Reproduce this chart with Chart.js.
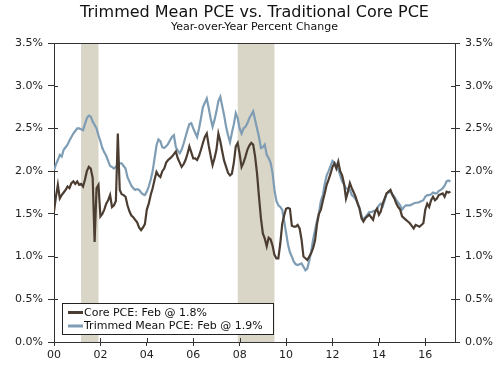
<!DOCTYPE html>
<html><head><meta charset="utf-8">
<script src="https://cdn.jsdelivr.net/npm/chart.js@4.4.1/dist/chart.umd.min.js"></script>
<style>html,body{margin:0;padding:0;background:#fff;}#wrap{width:500px;height:366px;}</style>
</head><body><div id="wrap"><canvas id="c" width="500" height="366"></canvas></div>
<script>
const startYear = 2000;
const titleText = 'Trimmed Mean PCE vs. Traditional Core PCE';
const subtitleText = 'Year-over-Year Percent Change';
const coreLabel = 'Core PCE: Feb @ 1.8%';
const trimLabel = 'Trimmed Mean PCE: Feb @ 1.9%';

// Monthly YoY % change, Jan 2000 - Feb 2017
const corePCE = [
1.53,1.70,1.84,1.68,1.72,1.75,1.78,1.82,1.80,1.86,1.88,1.85,
1.88,1.84,1.85,1.82,1.90,2.00,2.05,2.03,1.92,1.17,1.80,1.84,
1.47,1.50,1.55,1.62,1.66,1.72,1.58,1.60,1.65,2.44,1.78,1.73,
1.72,1.70,1.60,1.53,1.48,1.46,1.43,1.40,1.34,1.31,1.34,1.38,
1.55,1.62,1.72,1.80,1.90,1.99,1.95,1.93,2.00,2.03,2.10,2.13,
2.15,2.17,2.20,2.23,2.15,2.10,2.05,2.08,2.13,2.20,2.29,2.22,
2.15,2.15,2.13,2.18,2.25,2.33,2.40,2.44,2.30,2.18,2.07,2.15,
2.25,2.44,2.35,2.23,2.12,2.05,1.98,1.95,1.97,2.10,2.29,2.33,
2.20,2.05,2.10,2.17,2.25,2.30,2.33,2.31,2.17,1.97,1.70,1.45,
1.27,1.21,1.12,1.22,1.20,1.13,1.02,0.98,0.98,1.15,1.38,1.48,
1.56,1.57,1.56,1.36,1.35,1.35,1.37,1.33,1.20,1.00,0.98,0.96,
1.00,1.04,1.10,1.19,1.38,1.50,1.55,1.65,1.74,1.84,1.90,1.97,
2.05,2.09,2.03,2.11,2.00,1.95,1.85,1.68,1.76,1.86,1.80,1.75,
1.70,1.62,1.56,1.45,1.41,1.45,1.47,1.49,1.46,1.43,1.52,1.56,
1.49,1.53,1.62,1.68,1.74,1.76,1.78,1.72,1.68,1.62,1.58,1.55,
1.47,1.45,1.43,1.41,1.39,1.36,1.33,1.37,1.36,1.35,1.37,1.39,
1.55,1.62,1.58,1.66,1.70,1.66,1.68,1.72,1.73,1.74,1.70,1.76,
1.75,1.76
];
const trimmedPCE = [
2.01,2.08,2.13,2.19,2.17,2.25,2.28,2.31,2.36,2.40,2.44,2.47,
2.50,2.50,2.49,2.48,2.55,2.62,2.65,2.64,2.58,2.54,2.50,2.42,
2.35,2.27,2.22,2.18,2.12,2.06,2.05,2.03,2.05,2.08,2.09,2.09,
2.06,2.03,1.93,1.88,1.83,1.80,1.78,1.79,1.78,1.75,1.73,1.72,
1.76,1.82,1.90,2.00,2.15,2.30,2.37,2.35,2.28,2.27,2.29,2.32,
2.36,2.40,2.42,2.28,2.24,2.21,2.25,2.32,2.40,2.48,2.55,2.56,
2.50,2.45,2.40,2.50,2.62,2.75,2.80,2.85,2.74,2.62,2.52,2.60,
2.70,2.82,2.87,2.76,2.65,2.52,2.42,2.34,2.45,2.55,2.68,2.62,
2.50,2.44,2.50,2.52,2.56,2.62,2.66,2.70,2.60,2.50,2.40,2.27,
2.28,2.31,2.19,2.15,2.10,1.98,1.78,1.65,1.60,1.58,1.55,1.42,
1.28,1.14,1.05,1.00,0.94,0.91,0.90,0.91,0.92,0.88,0.84,0.86,
0.95,1.06,1.20,1.31,1.42,1.51,1.65,1.72,1.85,1.95,2.00,2.06,
2.12,2.10,2.07,2.02,1.95,1.88,1.84,1.80,1.79,1.78,1.72,1.70,
1.67,1.63,1.57,1.48,1.43,1.46,1.49,1.52,1.52,1.53,1.54,1.55,
1.60,1.62,1.59,1.66,1.74,1.75,1.76,1.73,1.70,1.66,1.63,1.60,
1.55,1.58,1.60,1.60,1.60,1.61,1.62,1.63,1.63,1.64,1.65,1.66,
1.70,1.72,1.72,1.73,1.75,1.74,1.74,1.77,1.78,1.80,1.83,1.88,
1.89,1.88
];
const xTickYears = [2000,2002,2004,2006,2008,2010,2012,2014,2016];
const xTickLabels = ['00','02','04','06','08','10','12','14','16'];
const yTicks = [0,0.5,1,1.5,2,2.5,3,3.5];
const recessions = [[2001 + 2/12, 2001 + 11/12], [2007 + 11/12, 2009 + 6/12]];

const coreColor = '#4b3d31';
const trimColor = '#7e9db4';
const bandColor = '#d9d5c7';
const axisColor = '#333';
const FONT = "'DejaVu Sans', Verdana, sans-serif";

const toPts = arr => arr.map((v, i) => ({x: startYear + i / 12, y: v}));

const bandsPlugin = {
  id: 'bands',
  beforeDatasetsDraw(chart) {
    const {ctx, chartArea, scales} = chart;
    ctx.save();
    ctx.fillStyle = bandColor;
    recessions.forEach(([a, b]) => {
      const x1 = scales.x.getPixelForValue(a), x2 = scales.x.getPixelForValue(b);
      ctx.fillRect(x1, chartArea.top, x2 - x1, chartArea.bottom - chartArea.top);
    });
    ctx.restore();
  }
};

const framePlugin = {
  id: 'frame',
  afterDatasetsDraw(chart) {
    const {ctx, chartArea, scales} = chart;
    ctx.save();
    ctx.strokeStyle = axisColor;
    ctx.lineWidth = 1;
    ctx.beginPath();
    ctx.moveTo(chartArea.left, chartArea.top + 0.5);
    ctx.lineTo(chartArea.right, chartArea.top + 0.5);
    // inner tick parts
    yTicks.forEach(v => {
      const y = Math.round(scales.y.getPixelForValue(v)) + 0.5;
      ctx.moveTo(chartArea.left, y); ctx.lineTo(chartArea.left + 4, y);
      ctx.moveTo(chartArea.right, y); ctx.lineTo(chartArea.right - 4, y);
    });
    xTickYears.forEach(v => {
      const x = Math.round(scales.x.getPixelForValue(v)) + 0.5;
      ctx.moveTo(x, chartArea.bottom); ctx.lineTo(x, chartArea.bottom - 4);
    });
    ctx.stroke();
    ctx.restore();
  }
};

const legendPlugin = {
  id: 'legendBox',
  afterDraw(chart) {
    const {ctx, chartArea} = chart;
    const x0 = chartArea.left + 8, y0 = chartArea.bottom - 39;
    ctx.save();
    ctx.fillStyle = '#fff';
    ctx.fillRect(x0, y0, 211, 31);
    ctx.strokeStyle = '#222';
    ctx.lineWidth = 1;
    ctx.strokeRect(x0 + 0.5, y0 + 0.5, 211, 31);
    const rows = [[coreLabel, coreColor, y0 + 9.5], [trimLabel, trimColor, y0 + 23]];
    ctx.font = '11px ' + FONT;
    ctx.textBaseline = 'middle';
    rows.forEach(([t, c, y]) => {
      ctx.strokeStyle = c;
      ctx.lineWidth = 3;
      ctx.beginPath();
      ctx.moveTo(x0 + 6, y); ctx.lineTo(x0 + 21, y);
      ctx.stroke();
      ctx.fillStyle = '#111';
      ctx.fillText(t, x0 + 22, y + 0.5);
    });
    ctx.restore();
  }
};

const yScale = (pos, w) => ({
  type: 'linear', position: pos, min: 0, max: 3.5,
  afterBuildTicks: s => { s.ticks = yTicks.map(v => ({value: v})); },
  ticks: {callback: v => v.toFixed(1) + '%', font: {family: FONT, size: 11}, color: '#222', padding: 5},
  grid: {drawOnChartArea: false, tickLength: pos === 'left' ? 6 : 5, color: axisColor},
  border: {display: true, color: axisColor, width: 1},
  afterFit: s => { s.width = w; }
});

new Chart(document.getElementById('c'), {
  type: 'line',
  data: {
    datasets: [
      {label: coreLabel, data: toPts(corePCE), borderColor: coreColor, borderWidth: 2.2, pointRadius: 0, tension: 0, yAxisID: 'y'},
      {label: trimLabel, data: toPts(trimmedPCE), borderColor: trimColor, borderWidth: 2.2, pointRadius: 0, tension: 0, yAxisID: 'y'}
    ]
  },
  options: {
    responsive: false, animation: false, devicePixelRatio: 1,
    layout: {padding: 0},
    plugins: {
      legend: {display: false},
      tooltip: {enabled: false},
      title: {display: true, text: titleText, fullSize: false, color: '#111',
        font: {family: FONT, size: 16, weight: 'normal', lineHeight: 1}, padding: {top: 4.5, bottom: 0}},
      subtitle: {display: true, text: subtitleText, fullSize: false, color: '#111',
        font: {family: FONT, size: 11, weight: 'normal', lineHeight: 1}, padding: {top: 1.5, bottom: 10}}
    },
    scales: {
      x: {
        type: 'linear', position: 'bottom', min: startYear, max: 2017.28,
        afterBuildTicks: s => { s.ticks = xTickYears.map(v => ({value: v})); },
        ticks: {callback: v => xTickLabels[xTickYears.indexOf(v)], font: {family: FONT, size: 11}, color: '#222', padding: 3, maxRotation: 0, autoSkip: false},
        grid: {drawOnChartArea: false, tickLength: 4, color: axisColor},
        border: {display: true, color: axisColor, width: 1},
        afterFit: s => { s.height = 24; }
      },
      y: yScale('left', 54),
      y2: yScale('right', 45)
    }
  },
  plugins: [bandsPlugin, framePlugin, legendPlugin]
});
</script>
</body></html>
